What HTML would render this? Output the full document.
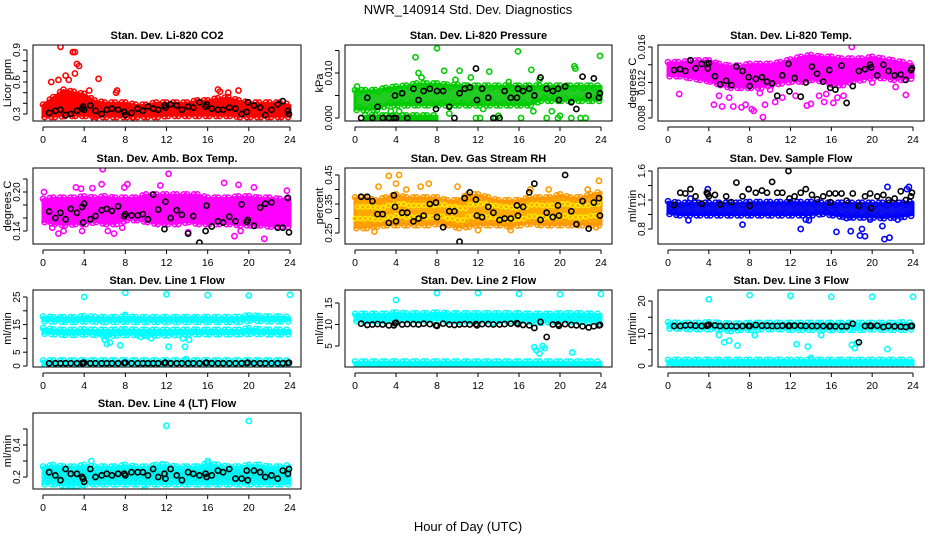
<!DOCTYPE html>
<html><head><meta charset="utf-8"><style>
html,body{margin:0;padding:0;background:#fff;}
svg{display:block;font-family:"Liberation Sans",sans-serif;}
</style></head><body>
<svg id="chart" width="936" height="540" viewBox="0 0 936 540">
<text x="468" y="14" text-anchor="middle" font-size="13">NWR_140914  Std. Dev. Diagnostics</text>
<text x="468" y="531" text-anchor="middle" font-size="13">Hour of Day (UTC)</text>
</svg>
<script>
const hours = [0,1,2,3,4,5,6,7,8,9,10,11,12,13,14,15,16,17,18,19,20,21,22,23,24];
const xTicks = [0,4,8,12,16,20,24];
const blackX = [0.6,1.2,1.7,2.2,2.7,3.3,3.8,3.9,4.0,4.6,5.1,5.7,6.2,6.7,7.3,7.9,8.0,8.6,9.2,9.7,10.2,10.7,11.2,11.8,11.9,12.4,13.0,13.5,14.1,14.6,15.2,15.8,15.9,16.4,17.0,17.5,18.1,18.7,19.3,19.8,19.9,20.5,21.1,21.6,22.2,22.8,23.3,23.8,23.9];

const co2Lo = [0.28,0.28,0.29,0.29,0.29,0.28,0.28,0.28,0.28,0.28,0.28,0.28,0.29,0.29,0.29,0.29,0.29,0.29,0.29,0.28,0.28,0.28,0.28,0.28,0.28];
const co2Hi = [0.38,0.45,0.52,0.5,0.48,0.42,0.4,0.4,0.4,0.38,0.38,0.4,0.4,0.4,0.4,0.42,0.42,0.44,0.45,0.42,0.4,0.4,0.4,0.4,0.38];
const co2OutX = [1.7,2.9,3.1,3.3,3.5,3.1,2.5,0.8,5.4,7.2,17,18,19,1.5,2.2,4.5,5.0,8.7,7.1,17.2];
const co2OutY = [0.93,0.88,0.88,0.77,0.75,0.68,0.62,0.6,0.63,0.52,0.53,0.5,0.52,0.62,0.66,0.52,0.25,0.27,0.5,0.51];
const co2Black = [0.31,0.33,0.34,0.29,0.3,0.33,0.35,0.37,0.34,0.38,0.33,0.3,0.34,0.35,0.34,0.32,0.29,0.31,0.35,0.33,0.37,0.35,0.34,0.38,0.36,0.39,0.38,0.34,0.37,0.36,0.41,0.37,0.39,0.35,0.34,0.34,0.36,0.35,0.3,0.32,0.41,0.38,0.36,0.29,0.34,0.39,0.42,0.33,0.3];

const presLo = [0.002,0.002,0.002,0.003,0.003,0.003,0.003,0.003,0.003,0.003,0.003,0.003,0.003,0.003,0.003,0.003,0.003,0.003,0.004,0.004,0.004,0.004,0.004,0.004,0.004];
const presHi = [0.006,0.006,0.006,0.0065,0.0068,0.007,0.0075,0.0075,0.0075,0.0072,0.0072,0.007,0.007,0.007,0.007,0.007,0.007,0.007,0.007,0.007,0.007,0.007,0.007,0.007,0.007];
const presZeroLo = [null,-0.0003,-0.0003,-0.0003,-0.0003,-0.0003,-0.0003,-0.0003,-0.0003,null,null,null,null,null,null,null,null,null,null,null,null,null,null,null,null];
const presZeroHi = [null,0.0004,0.0004,0.0004,0.0004,0.0004,0.0004,0.0004,0.0004,null,null,null,null,null,null,null,null,null,null,null,null,null,null,null,null];
const presOutX = [5.9,8.0,15.9,23.9,6.2,8.7,10.2,13.1,17.2,21.4,21.5,11.3,3.5,4.3,9.2,20,19.2,14,16.2,18.7,22,12.2,0.2,4.0,11.8,13.7,17.4,19.8,21.1,22.5,6.5,9.8,12.5,15,18];
const presOutY = [0.0135,0.0155,0.0148,0.0138,0.01,0.0105,0.0105,0.0103,0.0107,0.0115,0.011,0.009,0.0015,0.0015,0.001,0.0005,0.0015,0.0005,0,0,0,0,0.007,0,0,0,0.0015,0,0,0,0.009,0.0085,0.002,0.008,0.0085];
const presBlack = [0,0.0045,0,0.0025,0,0,0,0.005,0,0.0055,0,0.0065,0.004,0.006,0.0065,0.002,0.006,0.006,0.0025,0,0.0055,0.0065,0.0068,0.011,0.004,0.0065,0.0045,0,0,0.006,0.0045,0.0045,0.0065,0.006,0.0065,0.005,0.009,0.0065,0.006,0.0065,0.004,0.007,0.0035,0.002,0.0092,0.005,0.0088,0.0045,0.0055];

const tempLo = [0.0128,0.0128,0.0126,0.0124,0.0122,0.0118,0.0115,0.0115,0.0115,0.0115,0.0118,0.012,0.0122,0.0122,0.0124,0.0122,0.0118,0.0118,0.0122,0.0124,0.0126,0.0126,0.0124,0.0124,0.0126];
const tempHi = [0.0142,0.0142,0.0143,0.0144,0.0144,0.014,0.0138,0.0138,0.0140,0.0140,0.0140,0.0142,0.0145,0.0148,0.0150,0.0148,0.0148,0.0146,0.0146,0.0146,0.0148,0.0146,0.0144,0.0142,0.0140];
const tempOutX = [1.1,4.5,5.3,6.4,7.2,7.6,8.2,8.4,9.3,9.5,10.5,11.2,12.5,13.6,14.0,15.3,16.2,16.6,17.2,18.0,20.0,22.3,23.3,5.0,6.0,9.0,10.0,14.8,15.5];
const tempOutY = [0.0107,0.0095,0.0093,0.0093,0.0092,0.0095,0.009,0.0088,0.0081,0.0095,0.0098,0.0103,0.0105,0.0094,0.0096,0.0098,0.0097,0.0103,0.0105,0.016,0.012,0.0115,0.0106,0.0105,0.0103,0.0108,0.0112,0.0105,0.0107];
const tempBlack = [0.0134,0.0135,0.0133,0.0145,0.0136,0.0141,0.0141,0.0136,0.0142,0.0127,0.0118,0.0122,0.0117,0.0138,0.0133,0.0126,0.0116,0.0124,0.0126,0.0121,0.0119,0.0105,0.0128,0.0141,0.0110,0.0125,0.0104,0.0120,0.0138,0.0130,0.0121,0.0134,0.0114,0.0112,0.0139,0.0097,0.0116,0.0133,0.0135,0.0140,0.0137,0.0128,0.0140,0.0133,0.0128,0.0129,0.0123,0.0134,0.0136];

const ambLo = [0.155,0.152,0.15,0.152,0.152,0.155,0.152,0.152,0.158,0.158,0.155,0.152,0.152,0.152,0.155,0.152,0.152,0.152,0.152,0.15,0.15,0.15,0.148,0.148,0.148];
const ambHi = [0.188,0.19,0.19,0.19,0.192,0.19,0.192,0.19,0.19,0.19,0.195,0.195,0.195,0.195,0.195,0.195,0.19,0.19,0.19,0.192,0.192,0.19,0.19,0.188,0.188];
const ambOutX = [0.1,5.8,5.7,12.2,3.2,3.7,4.8,7.9,8.2,11.4,17.6,19.0,20.5,23.7,1.5,2.0,3.8,6.3,6.9,14.1,18.6,19.2,21.5,7.7,0.9];
const ambOutY = [0.20,0.235,0.212,0.228,0.207,0.205,0.206,0.207,0.212,0.210,0.214,0.211,0.207,0.202,0.136,0.14,0.14,0.14,0.136,0.138,0.132,0.14,0.128,0.145,0.145];
const ambBlack = [0.17,0.16,0.168,0.158,0.174,0.168,0.177,0.153,0.182,0.158,0.163,0.172,0.174,0.171,0.178,0.163,0.166,0.164,0.164,0.166,0.158,0.196,0.173,0.143,0.185,0.16,0.172,0.165,0.136,0.163,0.122,0.14,0.179,0.147,0.155,0.153,0.162,0.155,0.181,0.154,0.157,0.148,0.176,0.182,0.184,0.145,0.145,0.191,0.138];

const rhLo = [0.27,0.27,0.275,0.28,0.28,0.28,0.28,0.28,0.285,0.28,0.27,0.275,0.28,0.28,0.28,0.275,0.28,0.285,0.28,0.28,0.28,0.28,0.28,0.28,0.28];
const rhHi = [0.37,0.37,0.36,0.37,0.38,0.37,0.37,0.37,0.37,0.36,0.36,0.38,0.38,0.37,0.36,0.36,0.36,0.37,0.37,0.37,0.38,0.37,0.37,0.38,0.39];
const rhOutX = [3.3,4.3,4.0,2.3,1.9,12.0,23.8,10.0,6.4,5.0,7.2,17.1,22.7,18.9,15.2,8.6,23.5];
const rhOutY = [0.447,0.45,0.42,0.41,0.255,0.26,0.43,0.41,0.41,0.40,0.42,0.40,0.40,0.40,0.26,0.27,0.27];
const rhBlack = [0.375,0.375,0.36,0.315,0.315,0.285,0.38,0.34,0.29,0.32,0.32,0.29,0.3,0.31,0.35,0.355,0.305,0.27,0.325,0.325,0.22,0.37,0.39,0.365,0.31,0.305,0.34,0.32,0.295,0.3,0.3,0.345,0.31,0.34,0.39,0.42,0.295,0.32,0.305,0.345,0.31,0.45,0.325,0.28,0.36,0.265,0.355,0.37,0.31];

const sfLo = [1.02,1.0,1.0,1.0,1.0,1.0,1.0,1.0,1.0,1.0,1.0,1.0,1.0,1.0,1.0,1.02,1.0,0.98,0.97,0.97,0.97,0.96,0.97,0.98,1.0];
const sfHi = [1.17,1.15,1.15,1.15,1.15,1.15,1.15,1.15,1.16,1.16,1.16,1.16,1.16,1.16,1.16,1.15,1.15,1.15,1.15,1.15,1.15,1.15,1.15,1.15,1.17];
const sfOutX = [2.0,7.3,13.0,13.5,13.8,16.5,17.9,18.8,19.0,19.3,21.0,21.2,21.7,21.5,23.6,2.2,3.9,7.9,23.4,17.5,19.8,22.5];
const sfOutY = [0.92,0.86,0.8,0.93,0.92,0.76,0.77,0.71,0.8,0.7,0.84,0.66,0.68,1.38,1.38,1.22,1.35,1.35,1.35,0.95,0.93,0.93];
const sfBlack = [1.13,1.3,1.29,1.35,1.25,1.15,1.3,1.28,1.25,1.27,1.14,1.25,1.17,1.44,1.25,1.35,1.12,1.3,1.33,1.3,1.45,1.3,1.3,1.6,1.22,1.25,1.3,1.35,1.27,1.21,1.25,1.29,1.17,1.29,1.29,1.19,1.29,1.12,1.25,1.29,1.09,1.25,1.27,1.2,1.22,1.32,1.2,1.25,1.3];

const l1aLo = [16.5,16.5,16.3,16.3,16.5,16.4,16.3,16.3,16.4,16.3,16.3,16.3,16.3,16.3,16.3,16.3,16.3,16.3,16.3,16.3,16.8,16.6,16.5,16.5,16.5];
const l1aHi = [17.6,17.4,17.4,17.4,17.8,17.5,17.4,17.4,17.6,17.4,17.4,17.4,17.4,17.4,17.4,17.4,17.4,17.4,17.4,17.5,18.0,17.8,17.6,17.6,17.4];
const l1bLo = [12.0,11.8,11.6,11.6,11.8,11.6,11.0,11.4,11.6,11.5,11.2,11.4,11.4,11.6,11.8,11.8,11.8,11.8,11.8,11.8,12.0,11.9,11.8,11.8,11.8];
const l1bHi = [13.4,13.0,12.8,12.8,13.0,12.8,12.8,12.8,13.0,12.8,12.8,12.8,12.8,12.8,12.8,12.8,12.8,12.8,12.8,12.8,13.4,13.0,12.8,12.8,12.8];
const l1cLo = [0.5,0.5,0.5,0.5,0.5,0.5,0.5,0.5,0.5,0.5,0.5,0.5,0.5,0.5,0.5,0.5,0.5,0.5,0.5,0.5,0.5,0.5,0.5,0.5,0.5];
const l1cHi = [1.7,1.7,1.7,1.7,1.7,1.7,1.7,1.7,1.7,1.7,1.7,1.7,1.7,1.7,1.7,1.7,1.7,1.7,1.7,1.7,1.7,1.7,1.7,1.7,1.7];
const l1OutX = [4,8,12,16,20,24,8,6,6.2,6.5,7.5,9.5,10.5,12.2,13.6,13.8,14.2,13.9];
const l1OutY = [25,26.5,26,25.7,25.5,25.8,18.5,9.5,8,8.5,7.5,10.5,10,7,10,7,9.5,2.5];
const l1Black = [1,1,1,1,1,1,1,1.1,1.2,1,1,1,1,1,1,1.1,1.2,1,1,1,1,1,1,1.1,1.2,1,1,1,1,1,1,1.1,1.2,1,1,1,1,1,1,1.1,1.2,1,1,1,1,1,1,1.1,1.2];

const l2aLo = [11.0,11.0,11.0,11.0,11.2,11.2,11.2,11.2,11.2,11.0,11.0,11.0,11.0,11.0,11.0,11.0,11.0,10.8,10.6,10.8,11.0,10.8,10.8,10.8,10.8];
const l2aHi = [12.3,12.3,12.3,12.3,12.6,12.4,12.4,12.4,12.6,12.4,12.4,12.4,12.4,12.4,12.4,12.4,12.4,12.3,12.3,12.3,12.4,12.4,12.4,12.3,12.3];
const l2bLo = [0.2,0.2,0.2,0.2,0.2,0.2,0.2,0.2,0.2,0.2,0.2,0.2,0.2,0.2,0.2,0.2,0.2,0.2,0.2,0.2,0.2,0.2,0.2,0.2,0.2];
const l2bHi = [1.2,1.2,1.2,1.2,1.2,1.2,1.2,1.2,1.2,1.2,1.2,1.2,1.2,1.2,1.2,1.2,1.2,1.2,1.2,1.2,1.2,1.2,1.2,1.2,1.2];
const l2OutX = [4,8,12,16,20,24,17.5,17.7,18.3,18.0,18.5,21.2,10.3,13.5];
const l2OutY = [15.7,17.3,17.3,17.1,17,17.1,4.7,4,5,3.3,4.5,3.5,10.5,10.4];
const l2Black = [10.2,9.9,10,10.1,10,9.8,9.8,10.3,10.4,10,10.1,10.1,10,10.2,10.1,9.8,9.7,10.2,10,9.9,10,10.1,10,10.1,9.8,10.1,10.1,10,10,10.1,10.2,10.3,10.1,9.9,9.8,9.2,10.6,7.1,10,10,9.7,10.1,9.9,9.8,9.6,9.3,9.6,9.8,9.9];

const l3aLo = [11.8,11.8,11.6,11.6,11.6,11.6,11.0,11.4,11.4,11.6,11.6,11.6,11.4,11.4,11.4,11.4,11.4,11.4,11.4,11.4,11.6,11.4,11.4,11.4,11.6];
const l3aHi = [13.2,13.0,13.0,13.0,13.2,13.0,12.8,12.8,13.0,13.0,13.0,13.0,13.0,13.0,13.0,13.0,13.0,13.0,13.0,13.0,13.0,13.0,13.0,13.2,13.0];
const l3bLo = [0.5,0.5,0.5,0.5,0.5,0.5,0.5,0.5,0.5,0.5,0.5,0.5,0.5,0.5,0.5,0.5,0.5,0.5,0.5,0.5,0.5,0.5,0.5,0.5,0.5];
const l3bHi = [1.6,1.6,1.6,1.6,1.6,1.6,1.6,1.6,1.6,1.6,1.6,1.6,1.6,1.6,1.6,1.6,1.6,1.6,1.6,1.6,1.6,1.6,1.6,1.6,1.6];
const l3OutX = [4,8,12,16,20,24,5,5.5,6,6.8,8.5,12.6,13.7,14.0,15,18,18.3,18.5,21.5];
const l3OutY = [20.5,21.8,21.6,21.3,21.3,21.3,9.5,7.3,7.8,6.3,9.5,6.7,6,2.5,9.5,6.5,5.5,7,5.2];
const l3Black = [12.3,12.3,12.5,12.6,12.4,12.3,12.4,12.5,12.7,12.5,12.3,12.3,12.3,12.2,12.3,12.3,12.3,12.6,12.4,12.4,12.3,12.3,12.4,12.3,12.4,12.4,12.4,12.3,12.3,12.3,12.3,12.2,12.3,12.2,12.2,12.2,13.0,7.3,12.3,12.4,12.3,12.4,12.0,12.3,12.2,12.1,12.0,12.3,12.3];

const l4Lo = [0.16,0.16,0.15,0.15,0.16,0.16,0.16,0.16,0.16,0.16,0.16,0.16,0.16,0.16,0.16,0.16,0.16,0.16,0.16,0.16,0.16,0.16,0.16,0.16,0.16];
const l4Hi = [0.26,0.27,0.26,0.26,0.27,0.26,0.26,0.26,0.27,0.26,0.26,0.27,0.27,0.26,0.26,0.26,0.28,0.27,0.26,0.26,0.27,0.27,0.26,0.26,0.27];
const l4OutX = [4,12,20,4.7,11.6,16,2.7,3.8,9.8];
const l4OutY = [0.62,0.52,0.55,0.3,0.28,0.3,0.13,0.13,0.12];
const l4Black = [0.23,0.21,0.18,0.25,0.22,0.22,0.2,0.19,0.17,0.25,0.2,0.21,0.22,0.21,0.22,0.22,0.21,0.23,0.23,0.23,0.21,0.25,0.2,0.22,0.19,0.25,0.21,0.18,0.23,0.22,0.21,0.22,0.2,0.21,0.24,0.23,0.25,0.19,0.19,0.24,0.18,0.24,0.23,0.2,0.21,0.19,0.24,0.22,0.25];

const svg = document.getElementById('chart');
const NS = 'http://www.w3.org/2000/svg';
function mk(tag, attrs, parent){ const e=document.createElementNS(NS,tag); for(const k in attrs) e.setAttribute(k,attrs[k]); (parent||svg).appendChild(e); return e; }

const colsBox = [[33,301],[345,612],[658,924]];
const rowsBox = [[45,121],[168,244],[290,367],[413,489]];

const panels = [
 {name:'co2',title:'Stan. Dev. Li-820 CO2',ylab:'Licor ppm',c:0,r:0,ref:[0.3,114,0.9,50],ticks:[0.3,0.4,0.5,0.6,0.7,0.8,0.9],labels:['0.3','0.6','0.9'],color:'#ff0000',fill:'#ff0000',bands:[[co2Lo,co2Hi]],ox:co2OutX,oy:co2OutY,by:co2Black},
 {name:'pressure',title:'Stan. Dev. Li-820 Pressure',ylab:'kPa',c:1,r:0,ref:[0,118,0.01,73],ticks:[0,0.005,0.01,0.015],labels:['0.000','0.010'],color:'#00cc00',fill:'#22cc22',bands:[[presLo,presHi],[presZeroLo,presZeroHi]],ox:presOutX,oy:presOutY,by:presBlack},
 {name:'li820-temp',title:'Stan. Dev. Li-820 Temp.',ylab:'degrees C',c:2,r:0,ref:[0.008,118,0.016,47],ticks:[0.008,0.010,0.012,0.014,0.016],labels:['0.008','0.012','0.016'],color:'#ff00ff',fill:'#ff00ff',bands:[[tempLo,tempHi]],ox:tempOutX,oy:tempOutY,by:tempBlack},
 {name:'amb-box-temp',title:'Stan. Dev. Amb. Box Temp.',ylab:'degrees C',c:0,r:1,ref:[0.14,231,0.20,192],ticks:[0.14,0.16,0.18,0.20,0.22],labels:['0.14','0.20'],color:'#ff00ff',fill:'#ff00ff',bands:[[ambLo,ambHi]],ox:ambOutX,oy:ambOutY,by:ambBlack},
 {name:'gas-stream-rh',title:'Stan. Dev. Gas Stream RH',ylab:'percent',c:1,r:1,ref:[0.25,233,0.45,175],ticks:[0.25,0.30,0.35,0.40,0.45],labels:['0.25','0.35','0.45'],color:'#ff9900',fill:'#ffaa00',bands:[[rhLo,rhHi]],ox:rhOutX,oy:rhOutY,by:rhBlack,color2:'#ffee00'},
 {name:'sample-flow',title:'Stan. Dev. Sample Flow',ylab:'ml/min',c:2,r:1,ref:[0.8,229,1.6,171],ticks:[0.8,1.0,1.2,1.4,1.6],labels:['0.8','1.2','1.6'],color:'#0000ff',fill:'#1010ee',bands:[[sfLo,sfHi]],ox:sfOutX,oy:sfOutY,by:sfBlack},
 {name:'line1-flow',title:'Stan. Dev. Line 1 Flow',ylab:'ml/min',c:0,r:2,ref:[0,366,25,297],ticks:[0,5,10,15,20,25],labels:['0','5','15','25'],color:'#00ffff',fill:'#00f0f0',bands:[[l1aLo,l1aHi],[l1bLo,l1bHi],[l1cLo,l1cHi]],ox:l1OutX,oy:l1OutY,by:l1Black},
 {name:'line2-flow',title:'Stan. Dev. Line 2 Flow',ylab:'ml/min',c:1,r:2,ref:[5,346,15,303],ticks:[5,10,15],labels:['5','10','15'],color:'#00ffff',fill:'#00f0f0',bands:[[l2aLo,l2aHi],[l2bLo,l2bHi]],ox:l2OutX,oy:l2OutY,by:l2Black},
 {name:'line3-flow',title:'Stan. Dev. Line 3 Flow',ylab:'ml/min',c:2,r:2,ref:[0,366,20,301],ticks:[0,5,10,15,20],labels:['0','10','20'],color:'#00ffff',fill:'#00f0f0',bands:[[l3aLo,l3aHi],[l3bLo,l3bHi]],ox:l3OutX,oy:l3OutY,by:l3Black},
 {name:'line4-flow',title:'Stan. Dev. Line 4 (LT) Flow',ylab:'ml/min',c:0,r:3,ref:[0.2,477,0.4,445],ticks:[0.2,0.3,0.4,0.5],labels:['0.2','0.4'],color:'#00ffff',fill:'#00f0f0',bands:[[l4Lo,l4Hi]],ox:l4OutX,oy:l4OutY,by:l4Black}
];

function fmt(v,labels){ for(const l of labels){ if(Math.abs(parseFloat(l)-v)<1e-9) return l; } return null; }

panels.forEach(p=>{
  const [bl,br]=colsBox[p.c], [bt,bb]=rowsBox[p.r];
  const x0=bl+10, x1=br-11;
  const xs=h=>x0+(x1-x0)*h/24;
  const [v1,p1,v2,p2]=p.ref;
  const ys=v=>p1+(v-v1)*(p2-p1)/(v2-v1);
  const g=mk('g',{});
  
  
  const clipId='clip-'+p.name;
  const cp=mk('clipPath',{id:clipId},g); mk('rect',{x:bl,y:bt,width:br-bl,height:bb-bt},cp);
  const plot=mk('g',{'clip-path':'url(#'+clipId+')'},g);
  
  
  p.bands.forEach((b,bi)=>{
    const lo=b[0],hi=b[1];
    let seg=[];
    const flush=()=>{ if(seg.length>1){
      const pts=seg.map(i=>xs(hours[i])+','+ys(hi[i])).concat(seg.slice().reverse().map(i=>xs(hours[i])+','+ys(lo[i])));
      const poly=mk('polygon',{points:pts.join(' '),fill:p.fill,stroke:p.color,'stroke-width':3,'stroke-linejoin':'round'},plot);
      
      
      for(let k=0;k<seg.length-1;k++){ const i=seg[k];
        for(let f=0;f<3;f++){ const t=f/3; const hx=hours[i]+t;
          const hv=hi[i]+(hi[i+1]-hi[i])*t, lv=lo[i]+(lo[i+1]-lo[i])*t;
          const off=(f%2?0.5:-0.3);
          const e1=mk('circle',{cx:xs(hx),cy:ys(hv)+off*3,r:2.6,fill:'none',stroke:p.color,'stroke-width':1.5},plot);
          
          
          const e2=mk('circle',{cx:xs(hx+0.15),cy:ys(lv)-off*3,r:2.6,fill:'none',stroke:p.color,'stroke-width':1.5},plot);
          
          
        } }
      if(p.color2){ for(let k=0;k<seg.length-1;k++){ const i=seg[k]; for(let f=0;f<4;f++){ const hx=hours[i]+f*0.25; const mid=(lo[i]+hi[i])/2;
        const d=mk('circle',{cx:xs(hx),cy:ys(mid+(f%2?0.02:-0.02)),r:2.2,fill:'none',stroke:p.color2,'stroke-width':1.3},plot);
        
         } } }
    } seg=[]; };
    for(let i=0;i<hours.length;i++){ if(lo[i]===null||hi[i]===null) flush(); else seg.push(i); }
    flush();
  });
  p.ox.forEach((xv,i)=>{
    const c=mk('circle',{cx:xs(xv),cy:ys(p.oy[i]),r:2.6,fill:'none',stroke:p.color,'stroke-width':1.6},plot);
    
    
  });
  blackX.forEach((xv,i)=>{
    const c=mk('circle',{cx:xs(xv),cy:ys(p.by[i]),r:2.6,fill:'none',stroke:'#000','stroke-width':1.6},plot);
    
    
  });
  const box=mk('rect',{x:bl,y:bt,width:br-bl,height:bb-bt,fill:'none',stroke:'#000','stroke-width':1},g);
  
  
  const t=mk('text',{x:(bl+br)/2,y:bt-6,'text-anchor':'middle','font-size':11,'font-weight':'bold'},g); t.textContent=p.title;
  
  
  mk('line',{x1:x0,x2:x1,y1:bb+6,y2:bb+6,stroke:'#000'},g);
  xTicks.forEach(h=>{
    mk('line',{x1:xs(h),x2:xs(h),y1:bb+6,y2:bb+10,stroke:'#000'},g);
    const tl=mk('text',{x:xs(h),y:bb+22,'text-anchor':'middle','font-size':10.5},g); tl.textContent=h;
    
    
  });
  const yt0=ys(p.ticks[0]), yt1=ys(p.ticks[p.ticks.length-1]);
  mk('line',{x1:bl-6,x2:bl-6,y1:yt0,y2:yt1,stroke:'#000'},g);
  p.ticks.forEach(v=>{
    const y=ys(v);
    mk('line',{x1:bl-10,x2:bl-6,y1:y,y2:y,stroke:'#000'},g);
    const lab=fmt(v,p.labels);
    if(lab){ const tl=mk('text',{x:bl-13,y:y,'text-anchor':'middle','font-size':10,transform:'rotate(-90 '+(bl-13)+' '+y+')'},g); tl.textContent=lab;
      
       }
  });
  const yl=mk('text',{x:bl-22,y:(bt+bb)/2,'text-anchor':'middle','font-size':11,transform:'rotate(-90 '+(bl-22)+' '+((bt+bb)/2)+')'},g); yl.textContent=p.ylab;
  
  
});
</script>
</body></html>
